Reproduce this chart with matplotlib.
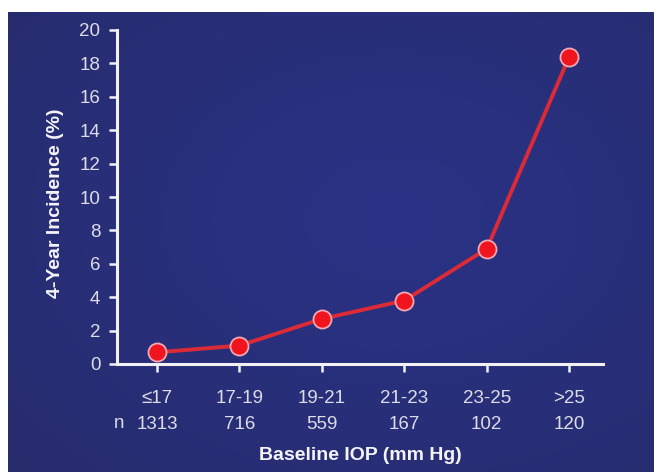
import numpy as np
import matplotlib
matplotlib.use("Agg")
import matplotlib.pyplot as plt

plt.rcParams['font.family'] = ['Liberation Sans', 'DejaVu Sans']

groups = ['≤17', '17-19', '19-21', '21-23', '23-25', '>25']
n_counts = ['1313', '716', '559', '167', '102', '120']
incidence = [0.7, 1.1, 2.7, 3.8, 6.9, 18.4]

W, H = 654, 472
fig = plt.figure(figsize=(W / 100, H / 100), dpi=100, facecolor='white')

# blue gradient background, white strip at top and left
bg = fig.add_axes([8 / W, 0, (W - 8) / W, (H - 12) / H])
yy, xx = np.mgrid[0:1:200j, 0:1:200j]
r = np.sqrt((xx - 0.6) ** 2 + (yy - 0.45) ** 2)
c0 = np.array([0x2a, 0x32, 0x86]) / 255
c1 = np.array([0x27, 0x2c, 0x6c]) / 255
t = np.clip(r / 0.85, 0, 1)[..., None]
img = c0 * (1 - t) + c1 * t
bg.imshow(img, aspect='auto', extent=[0, 1, 0, 1], origin='upper')
bg.set_axis_off()

ax = fig.add_axes([117 / W, (H - 364) / H, (603 - 117) / W, (364 - 30) / H])
ax.set_facecolor('none')
x = np.arange(len(groups))
ax.plot(x, incidence, color='#dc2a36', lw=2.8, zorder=3)
ax.plot(x, incidence, 'o', ms=13, mfc='#f0141e', mec='#f3a8b4', mew=1.3, zorder=4)

ax.set_xlim(-0.485, 5.41)
ax.set_ylim(0, 20)
ax.set_yticks(range(0, 21, 2))
ax.set_xticks(x)
ax.set_xticklabels([g + '\n' + n for g, n in zip(groups, n_counts)], linespacing=1.7)

for s in ['top', 'right']:
    ax.spines[s].set_visible(False)
for s in ['left', 'bottom']:
    ax.spines[s].set_color('#f2f2f6')
    ax.spines[s].set_linewidth(2.2)
ax.tick_params(colors='#f2f2f6', length=6, width=1.8, labelsize=13.5,
               labelcolor='#dcdde8')
ax.tick_params(axis='x', pad=13)
ax.tick_params(axis='y', pad=6)

ax.text(119 / W, (H - 424) / H, 'n', transform=fig.transFigure,
        fontsize=13.5, color='#dcdde8', va='center', ha='center')

ax.set_ylabel('4-Year Incidence (%)', fontsize=14, fontweight='bold',
              color='#f4f4f8')
ax.yaxis.set_label_coords(-(117 - 64) / (603 - 117), 0.48)
ax.set_xlabel('Baseline IOP (mm Hg)', fontsize=14, fontweight='bold',
              color='#f4f4f8', labelpad=10)

fig.savefig('out.png', dpi=100, facecolor='white')
